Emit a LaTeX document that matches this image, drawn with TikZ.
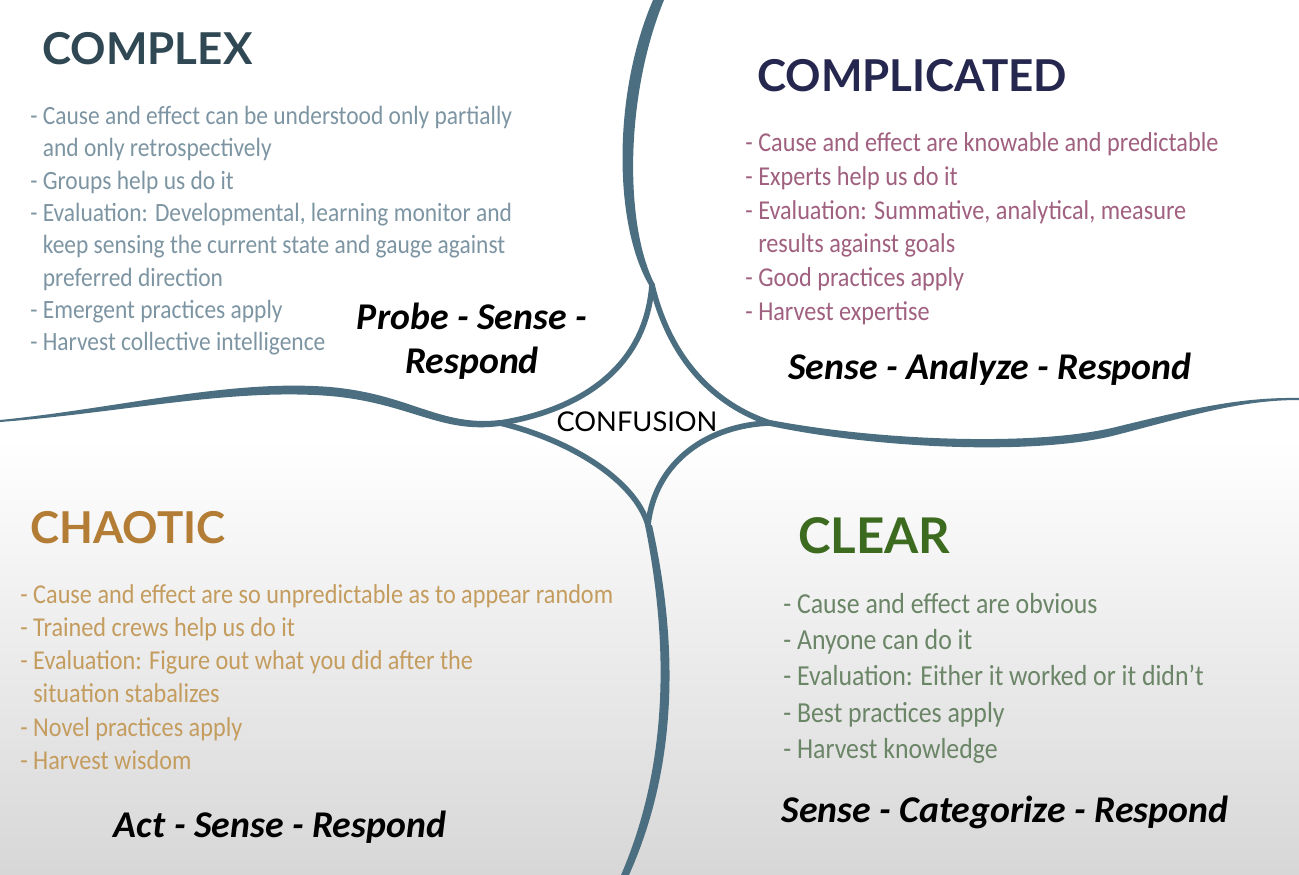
\documentclass[tikz,border=0pt]{standalone}
\usepackage{fontspec}
\usepackage{tikz}
\usetikzlibrary{positioning}
\setmainfont{Carlito}
\newfontfamily\headfont{Lato}
\newfontfamily\bodyfont[FakeStretch=0.89]{Carlito}
\newfontfamily\mottofont{Carlito}
\definecolor{curveTeal}{HTML}{4B6F80}
\definecolor{bgGray}{HTML}{D7D7D7}
\definecolor{complexHead}{HTML}{2F4853}
\definecolor{complexText}{HTML}{7D95A3}
\definecolor{complHead}{HTML}{25274F}
\definecolor{complText}{HTML}{A0607F}
\definecolor{chaosHead}{HTML}{B37D35}
\definecolor{chaosText}{HTML}{C49C5E}
\definecolor{clearHead}{HTML}{3C6A1F}
\definecolor{clearText}{HTML}{6B8567}
\newcommand{\contline}{\phantom{- }}

\begin{document}
\begin{tikzpicture}[x=0.02cm, y=-0.02cm,
  zonehead/.style={font=\headfont\bfseries\fontsize{25}{30}\selectfont, anchor=base west, inner sep=0pt},
  bullets/.style={align=left, anchor=north west, inner sep=0pt},
  motto/.style={font=\mottofont\bfseries\itshape\fontsize{21.5}{25}\selectfont, align=center, inner sep=0pt},
  border/.style={draw=curveTeal, line width=3.2pt, line cap=round},
  stroke/.style={fill=curveTeal}
]
  \useasboundingbox (0,0) rectangle (1299,875);
  \fill[white] (0,0) rectangle (1299,440);
  \fill[top color=white, bottom color=bgGray] (0,440) rectangle (1299,875);

  % boundaries
  \fill[stroke] (653,0) .. controls (612,95) and (614,225) .. (649,285)
             -- (655,285) .. controls (624,225) and (625,95) .. (664,0) -- cycle;
  \fill[stroke] (500,420) .. controls (440,427) and (410,394) .. (330,387)
                          .. controls (230,379) and (120,408) .. (0,420)
             -- (0,422) .. controls (120,413) and (230,388) .. (330,396)
                        .. controls (410,403) and (440,434) .. (500,426) -- cycle;
  \fill[stroke] (770,420) .. controls (880,441) and (1040,447) .. (1120,426)
                          .. controls (1190,409) and (1240,397) .. (1299,398)
             -- (1299,400) .. controls (1240,400) and (1190,416) .. (1120,434)
                           .. controls (1040,456) and (880,449) .. (770,426) -- cycle;
  \fill[stroke] (645,525) .. controls (664,620) and (675,750) .. (621,875)
             -- (629,875) .. controls (685,750) and (673,620) .. (652,525) -- cycle;
  \draw[border] (652,285) .. controls (645,375) and (570,412) .. (500,423);
  \draw[border] (652,285) .. controls (670,360) and (715,405) .. (770,423);
  \draw[border] (500,423) .. controls (570,440) and (635,480) .. (648,525);
  \draw[border] (770,423) .. controls (710,425) and (655,460) .. (648,525);

  \node[font=\headfont\fontsize{15.5}{18}\selectfont] (confusion) at (637,422) {CONFUSION};

  % complex
  \node[zonehead, text=complexHead] (complex) at (42,65) {COMPLEX};
  \node[bullets, text=complexText, font=\bodyfont\fontsize{15}{18.4}\selectfont] (complexList) at (30,106) {%
    - Cause and effect can be understood only partially\\
    \contline and only retrospectively\\
    - Groups help us do it\\
    - Evaluation: Developmental, learning monitor and\\
    \contline keep sensing the current state and gauge against\\
    \contline preferred direction\\
    - Emergent practices apply\\
    - Harvest collective intelligence};
  \node[motto] (complexMotto) at (472,341) {Probe - Sense -\\Respond};

  % complicated
  \node[zonehead, text=complHead] (complicated) at (757,92) {COMPLICATED};
  \node[bullets, text=complText, font=\bodyfont\fontsize{15.5}{19.3}\selectfont] (complList) at (745,132) {%
    - Cause and effect are knowable and predictable\\
    - Experts help us do it\\
    - Evaluation: Summative, analytical, measure\\
    \contline results against goals\\
    - Good practices apply\\
    - Harvest expertise};
  \node[motto] (complMotto) at (990,369) {Sense - Analyze - Respond};

  % chaotic
  \node[zonehead, text=chaosHead] (chaotic) at (30,543) {CHAOTIC};
  \node[bullets, text=chaosText, font=\bodyfont\fontsize{15.5}{18.9}\selectfont] (chaosList) at (20,584) {%
    - Cause and effect are so unpredictable as to appear random\\
    - Trained crews help us do it\\
    - Evaluation: Figure out what you did after the\\
    \contline situation stabalizes\\
    - Novel practices apply\\
    - Harvest wisdom};
  \node[motto] (chaosMotto) at (280,827) {Act - Sense - Respond};

  % clear
  \node[zonehead, text=clearHead, font=\headfont\bfseries\fontsize{28}{32}\selectfont] (clear) at (798,553) {CLEAR};
  \node[bullets, text=clearText, font=\bodyfont\fontsize{16.5}{20.6}\selectfont] (clearList) at (783,593) {%
    - Cause and effect are obvious\\
    - Anyone can do it\\
    - Evaluation: Either it worked or it didn’t\\
    - Best practices apply\\
    - Harvest knowledge};
  \node[motto] (clearMotto) at (1005,812) {Sense - Categorize - Respond};
\end{tikzpicture}
\end{document}
